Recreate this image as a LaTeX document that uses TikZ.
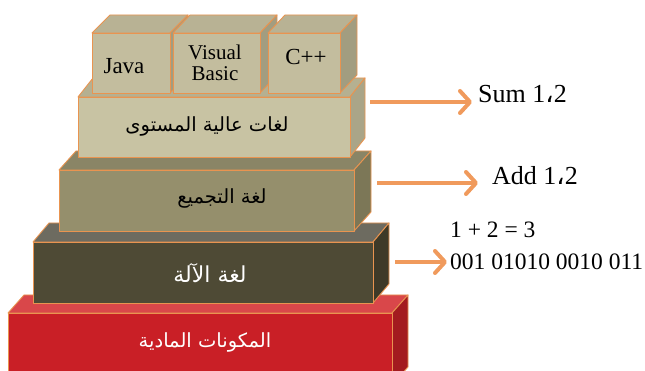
\documentclass[tikz,border=0pt]{standalone}
\usepackage{fontspec}
\setmainfont{Liberation Serif}
\newfontfamily\arabicfont[Script=Arabic]{DejaVu Sans}
\TeXXeTstate=1
\usetikzlibrary{arrows.meta}
\definecolor{edgeor}{HTML}{E99450}
\definecolor{arrowor}{HTML}{F09A5C}
\definecolor{redF}{HTML}{C91F26}
\definecolor{redT}{HTML}{D9474A}
\definecolor{redS}{HTML}{A31B1F}
\definecolor{darkF}{HTML}{4E4A35}
\definecolor{darkT}{HTML}{6D6B60}
\definecolor{darkS}{HTML}{3E3A28}
\definecolor{asmF}{HTML}{958F6C}
\definecolor{asmT}{HTML}{8A8566}
\definecolor{asmS}{HTML}{7C7757}
\definecolor{hiF}{HTML}{C8C3A3}
\definecolor{hiT}{HTML}{B5B091}
\definecolor{hiS}{HTML}{AAA588}
\definecolor{smF}{HTML}{C3BD9E}
\definecolor{smT}{HTML}{B8B294}
\definecolor{smS}{HTML}{A29D80}
\tikzset{
  faceedge/.style={draw=edgeor, line width=0.9pt, line join=round},
  arlbl/.style={inner sep=0pt, font=\arabicfont\fontsize{19.5}{22}\selectfont},
  latlbl/.style={inner sep=0pt, font=\fontsize{23}{23}\selectfont},
  sidetxt/.style={inner sep=0pt, anchor=base west},
  arr/.style={draw=arrowor, line width=4pt, -{Straight Barb[length=10pt,width=22pt,round]}}
}
% #1 x1  #2 y top  #3 x2  #4 y bottom  #5 dx  #6 dy  #7 front  #8 top  #9 side
\newcommand{\blockbox}[9]{%
  \path[faceedge, fill=#8] (#1,#2) -- ++(#5,#6) -- ([shift={(#5,#6)}]#3,#2) -- (#3,#2) -- cycle;
  \path[faceedge, fill=#9] (#3,#2) -- ([shift={(#5,#6)}]#3,#2) -- ([shift={(#5,#6)}]#3,#4) -- (#3,#4) -- cycle;
  \path[faceedge, fill=#7] (#1,#2) rectangle (#3,#4);
}
\begin{document}
\begin{tikzpicture}[x=1pt, y=-1pt]
\useasboundingbox (0,0) rectangle (645,371);
\clip (0,0) rectangle (645,371);
% hardware
\blockbox{8}{313}{392}{385}{16}{-18}{redF}{redT}{redS}
% machine language
\blockbox{33}{242}{373}{303}{16}{-19}{darkF}{darkT}{darkS}
% assembly
\blockbox{59}{170}{354}{231}{17}{-19}{asmF}{asmT}{asmS}
% high level
\blockbox{78}{97}{350}{157}{15}{-19}{hiF}{hiT}{hiS}
% small boxes
\blockbox{92}{33}{170}{93}{18}{-18}{smF}{smT}{smS}
\blockbox{173}{33}{260}{93}{17}{-18}{smF}{smT}{smS}
\blockbox{268}{33}{340}{93}{17}{-18}{smF}{smT}{smS}

\node[latlbl] (java) at (124,66) {Java};
\node[inner sep=0pt, align=center, font=\fontsize{21}{21}\selectfont] (vb) at (215,63) {Visual\\Basic};
\node[latlbl] (cpp) at (306,57) {C++};

\node[arlbl, text=black] (hl) at (207,126) {\beginR لغات عالية المستوى\endR};
\node[arlbl, text=black] (asm) at (222,198) {\beginR لغة التجميع\endR};
\node[arlbl, text=white, font=\arabicfont\fontsize{22}{24}\selectfont] (ml) at (210,273) {\beginR لغة الآلة\endR};
\node[arlbl, text=white] (hw) at (205,342) {\beginR المكونات المادية\endR};

\node[sidetxt, font=\fontsize{26}{26}\selectfont] (sum) at (478,103) {Sum 1{\arabicfont ،}2};
\node[sidetxt, font=\fontsize{26}{26}\selectfont] (add) at (492,185) {Add 1{\arabicfont ،}2};
\node[sidetxt, font=\fontsize{23.5}{23.5}\selectfont] (eq) at (450,238) {1 + 2 = 3};
\node[sidetxt, font=\fontsize{23.5}{23.5}\selectfont] (bin) at (450,270) {001 01010 0010 011};

\coordinate (s1) at (370,102);
\coordinate (s2) at (377,183);
\coordinate (s3) at (395,262);
\draw[arr] (s1) -- ([xshift=-6pt]s1 -| sum.west);
\draw[arr] (s2) -- ([xshift=-14pt]s2 -| add.west);
\draw[arr] (s3) -- ([xshift=-3pt]s3 -| bin.west);
\end{tikzpicture}
\end{document}
